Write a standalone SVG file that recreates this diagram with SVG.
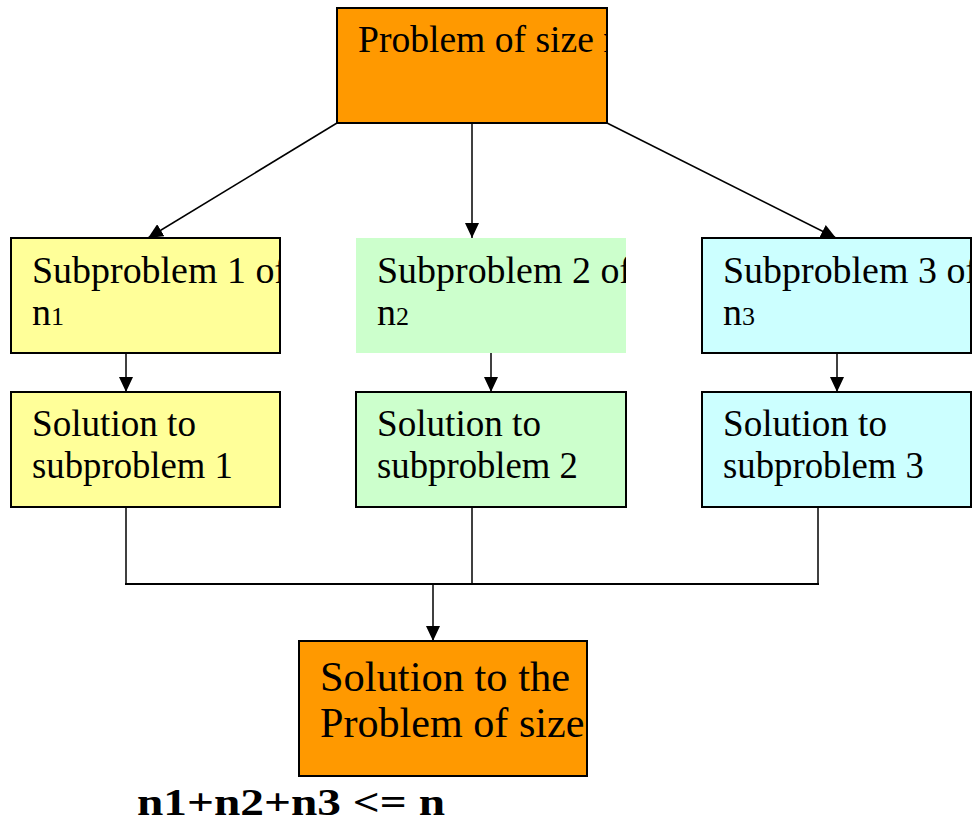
<svg xmlns="http://www.w3.org/2000/svg" width="974" height="822" viewBox="0 0 974 822">
<style>
.box{stroke:#000;stroke-width:2}
text{font-family:"Liberation Serif",Tinos,"Times New Roman",Times,serif;font-size:38px;fill:#000}
.sub{font-size:26px}
.big{font-size:43px}
.ln{stroke:#000;stroke-width:1.5;fill:none}
</style>
<defs>
<marker id="ah" markerUnits="userSpaceOnUse" markerWidth="16" markerHeight="14" refX="15" refY="7" orient="auto">
<path d="M0,0 L15,7 L0,14 Z" fill="#000"/>
</marker>
<clipPath id="c0"><rect x="337" y="8" width="270" height="115"/></clipPath>
<clipPath id="c1"><rect x="11" y="238" width="269" height="115"/></clipPath>
<clipPath id="c2"><rect x="356" y="238" width="270" height="115"/></clipPath>
<clipPath id="c3"><rect x="702" y="238" width="269" height="115"/></clipPath>
<clipPath id="c7"><rect x="299" y="641" width="288" height="135"/></clipPath>
</defs>
<g id="connectors">
<line class="ln" x1="337" y1="123" x2="148" y2="238" marker-end="url(#ah)"/>
<line class="ln" x1="472" y1="123" x2="472" y2="238" marker-end="url(#ah)"/>
<line class="ln" x1="607" y1="123" x2="836" y2="238" marker-end="url(#ah)"/>
<line class="ln" x1="126" y1="353" x2="126" y2="392" marker-end="url(#ah)"/>
<line class="ln" x1="491" y1="353" x2="491" y2="392" marker-end="url(#ah)"/>
<line class="ln" x1="837" y1="353" x2="837" y2="392" marker-end="url(#ah)"/>
<line class="ln" x1="126" y1="507" x2="126" y2="584"/>
<line class="ln" x1="472" y1="507" x2="472" y2="584"/>
<line class="ln" x1="818" y1="507" x2="818" y2="584"/>
<line x1="125" y1="584" x2="819" y2="584" stroke="#000" stroke-width="2"/>
<line class="ln" x1="433" y1="584" x2="433" y2="641" marker-end="url(#ah)"/>
</g>
<g id="problem">
<rect class="box" x="337" y="8" width="270" height="115" fill="#FF9900"/>
<text x="358" y="52" clip-path="url(#c0)" textLength="264" lengthAdjust="spacingAndGlyphs">Problem of size n</text>
</g>
<g id="sub1">
<rect class="box" x="11" y="238" width="269" height="115" fill="#FFFF99"/>
<g clip-path="url(#c1)"><text x="32" y="283" textLength="255" lengthAdjust="spacingAndGlyphs">Subproblem 1 of</text>
<text x="32" y="325">n<tspan class="sub">1</tspan></text></g>
</g>
<g id="sub2">
<rect x="356" y="238" width="270" height="115" fill="#CCFFCC"/>
<g clip-path="url(#c2)"><text x="377" y="283" textLength="255" lengthAdjust="spacingAndGlyphs">Subproblem 2 of</text>
<text x="377" y="325">n<tspan class="sub">2</tspan></text></g>
</g>
<g id="sub3">
<rect class="box" x="702" y="238" width="269" height="115" fill="#CCFFFF"/>
<g clip-path="url(#c3)"><text x="723" y="283" textLength="255" lengthAdjust="spacingAndGlyphs">Subproblem 3 of</text>
<text x="723" y="325">n<tspan class="sub">3</tspan></text></g>
</g>
<g id="sol1">
<rect class="box" x="11" y="392" width="269" height="115" fill="#FFFF99"/>
<text x="32" y="436" textLength="164" lengthAdjust="spacingAndGlyphs">Solution to</text>
<text x="32" y="478" textLength="201" lengthAdjust="spacingAndGlyphs">subproblem 1</text>
</g>
<g id="sol2">
<rect class="box" x="356" y="392" width="270" height="115" fill="#CCFFCC"/>
<text x="377" y="436" textLength="164" lengthAdjust="spacingAndGlyphs">Solution to</text>
<text x="377" y="478" textLength="201" lengthAdjust="spacingAndGlyphs">subproblem 2</text>
</g>
<g id="sol3">
<rect class="box" x="702" y="392" width="269" height="115" fill="#CCFFFF"/>
<text x="723" y="436" textLength="164" lengthAdjust="spacingAndGlyphs">Solution to</text>
<text x="723" y="478" textLength="201" lengthAdjust="spacingAndGlyphs">subproblem 3</text>
</g>
<g id="solution">
<rect class="box" x="299" y="641" width="288" height="135" fill="#FF9900"/>
<g clip-path="url(#c7)"><text class="big" x="320" y="691" textLength="250" lengthAdjust="spacingAndGlyphs">Solution to the</text>
<text class="big" x="320" y="737" textLength="296" lengthAdjust="spacingAndGlyphs">Problem of size n</text></g>
</g>
<g id="formula">
<text x="137" y="815" font-size="40" font-weight="bold" textLength="308" lengthAdjust="spacingAndGlyphs">n1+n2+n3 &lt;= n</text>
</g>
</svg>
